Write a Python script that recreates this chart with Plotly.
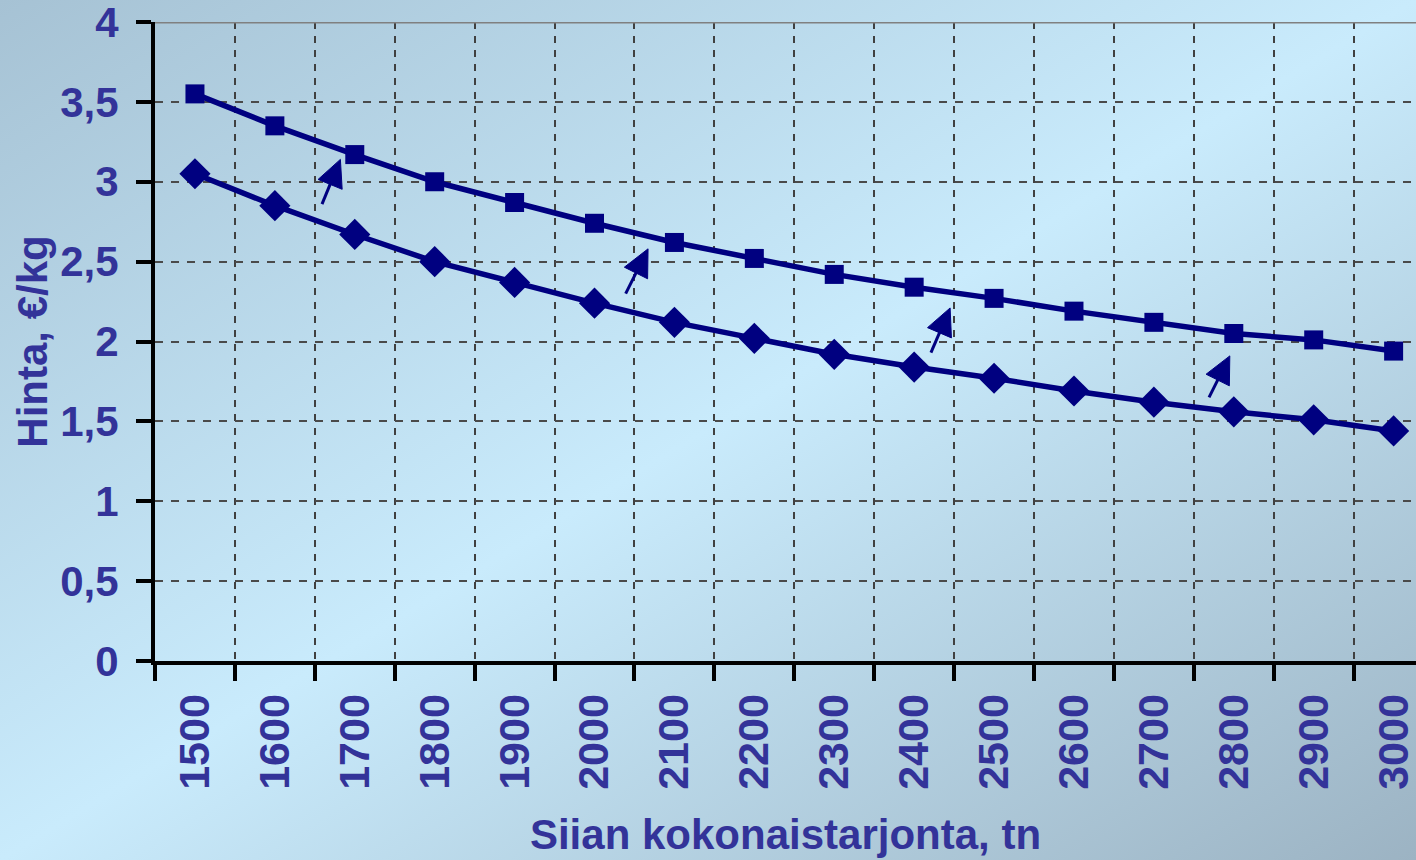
import base64
import math
import plotly.graph_objects as go

# ---------------- data ----------------
categories = ["1500", "1600", "1700", "1800", "1900", "2000", "2100", "2200",
              "2300", "2400", "2500", "2600", "2700", "2800", "2900", "3000"]
upper_series = [3.55, 3.35, 3.17, 3.00, 2.87, 2.74, 2.62, 2.52,
                2.42, 2.34, 2.27, 2.19, 2.12, 2.05, 2.01, 1.94]
lower_series = [3.05, 2.85, 2.67, 2.50, 2.37, 2.24, 2.12, 2.02,
                1.92, 1.84, 1.77, 1.69, 1.62, 1.56, 1.51, 1.44]
y_tick_values = [0, 0.5, 1, 1.5, 2, 2.5, 3, 3.5, 4]
y_tick_labels = ["0", "0,5", "1", "1,5", "2", "2,5", "3", "3,5", "4"]
x_title = "Siian kokonaistarjonta, tn"
y_title = "Hinta, €/kg"

# arrows (category-index positions on the x axis, values on the y axis)
arrow_tail_x = [1.59, 5.39, 9.21, 12.69]
arrow_tail_y = [2.86, 2.30, 1.93, 1.65]
arrow_tip_x = [1.82, 5.67, 9.45, 12.95]
arrow_tip_y = [3.14, 2.58, 2.21, 1.91]

# ---------------- style ----------------
W, H = 1416, 860
L, R, T, B = 155, 0, 22, 199
NAVY = "#000080"
TXT = "#333399"
FONT = "Liberation Sans, Arial, sans-serif"
FS = 42
X_RANGE = [-0.5, 15.28]
Y_RANGE = [0, 4]
HEAD_LEN = 27.0     # px
HEAD_HALF = 13.0    # px

svg = f'''<svg xmlns="http://www.w3.org/2000/svg" width="{W}" height="{H}" viewBox="0 0 {W} {H}" preserveAspectRatio="none">
<defs><linearGradient id="g" x1="0" y1="0" x2="1" y2="1">
<stop offset="0" stop-color="#a6c2d4"/>
<stop offset="0.5" stop-color="#c9ebfc"/>
<stop offset="1" stop-color="#9cb3c3"/>
</linearGradient></defs>
<rect x="0" y="0" width="{W}" height="{H}" fill="url(#g)"/></svg>'''
bg_src = "data:image/svg+xml;base64," + base64.b64encode(svg.encode()).decode()

pw = W - L - R
ph = H - T - B
ux = pw / (X_RANGE[1] - X_RANGE[0])   # px per category
uy = ph / (Y_RANGE[1] - Y_RANGE[0])   # px per value unit

fig = go.Figure()
fig.add_trace(go.Scatter(
    x=categories, y=lower_series, mode="lines+markers",
    line=dict(color=NAVY, width=5.5),
    marker=dict(symbol="diamond", size=24, color=NAVY),
    showlegend=False, hoverinfo="skip"))
fig.add_trace(go.Scatter(
    x=categories, y=upper_series, mode="lines+markers",
    line=dict(color=NAVY, width=5.5),
    marker=dict(symbol="square", size=19, color=NAVY),
    showlegend=False, hoverinfo="skip"))

# arrows drawn as shaft line + filled triangular head
for tx, ty, hx, hy in zip(arrow_tail_x, arrow_tail_y, arrow_tip_x, arrow_tip_y):
    dx, dy = (hx - tx) * ux, (hy - ty) * uy
    ln = math.hypot(dx, dy)
    ex, ey = dx / ln, dy / ln
    nx, ny = -ey, ex
    bx, by = -ex * HEAD_LEN, -ey * HEAD_LEN
    base_x, base_y = hx + bx / ux, hy + by / uy
    c1x, c1y = base_x + nx * HEAD_HALF / ux, base_y + ny * HEAD_HALF / uy
    c2x, c2y = base_x - nx * HEAD_HALF / ux, base_y - ny * HEAD_HALF / uy
    sx, sy = hx - ex * (HEAD_LEN - 4) / ux, hy - ey * (HEAD_LEN - 4) / uy
    fig.add_shape(type="line", xref="x", yref="y", x0=tx, y0=ty, x1=sx, y1=sy,
                  line=dict(color=NAVY, width=3), layer="above")
    fig.add_shape(type="path", xref="x", yref="y",
                  path=f"M{hx},{hy} L{c1x},{c1y} L{c2x},{c2y} Z",
                  fillcolor=NAVY, line=dict(color=NAVY, width=1), layer="above")

fig.add_shape(type="line", xref="paper", yref="y", x0=0, x1=1, y0=4, y1=4,
              line=dict(color="#808080", width=3), layer="above")

fig.add_layout_image(dict(source=bg_src, xref="paper", yref="paper",
                          x=-L / pw, y=1 + T / ph, sizex=W / pw, sizey=H / ph,
                          xanchor="left", yanchor="top", sizing="stretch",
                          layer="below"))

fig.update_layout(
    width=W, height=H,
    margin=dict(l=L, r=R, t=T, b=B, pad=0),
    paper_bgcolor="#c9ebfc", plot_bgcolor="rgba(0,0,0,0)",
    font=dict(family=FONT, color=TXT, size=FS, weight="bold"),
    showlegend=False,
)
fig.update_xaxes(
    type="category", categoryorder="array", categoryarray=categories,
    range=X_RANGE, tickson="boundaries",
    ticks="outside", ticklen=16, tickwidth=4, tickcolor="black",
    showline=True, linewidth=4, linecolor="black",
    showgrid=True, gridcolor="#404040", gridwidth=1.5, griddash="7px,7px",
    tickangle=-90, ticklabelstandoff=12, ticklabeloverflow="allow",
    tickfont=dict(family=FONT, size=43, color=TXT, weight="bold"),
    title=dict(text=x_title, standoff=32,
               font=dict(family=FONT, size=FS, color=TXT, weight="bold")),
)
fig.update_yaxes(
    range=Y_RANGE, tickvals=y_tick_values, ticktext=y_tick_labels,
    ticks="outside", ticklen=15, tickwidth=4, tickcolor="black",
    showline=True, linewidth=4, linecolor="black", zeroline=False,
    showgrid=True, gridcolor="#4a4a4a", gridwidth=1.5, griddash="8px,8px",
    ticklabelstandoff=9, ticklabeloverflow="allow",
    tickfont=dict(family=FONT, size=FS, color=TXT, weight="bold"),
    title=dict(text=y_title, standoff=1,
               font=dict(family=FONT, size=FS, color=TXT, weight="bold")),
)

fig.write_html("out.html", config={"displayModeBar": False},
               post_script="document.body.style.margin='0px';"
                           "document.body.style.padding='0px';"
                           "document.body.style.overflow='hidden';")
